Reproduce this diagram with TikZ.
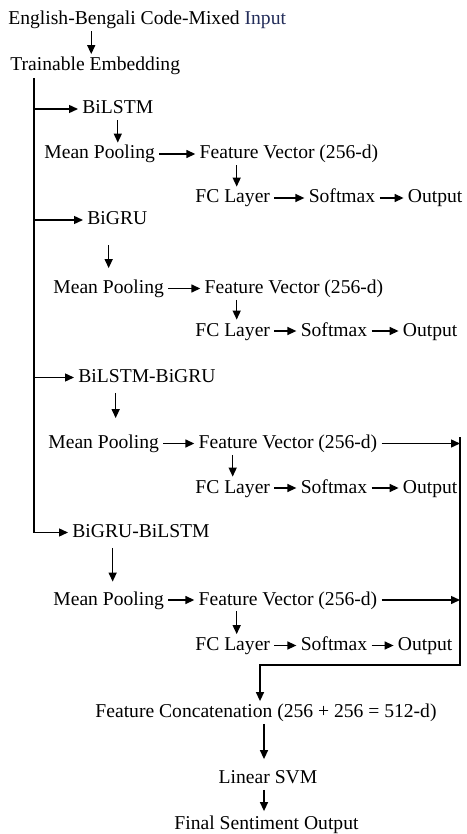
\documentclass[tikz,border=0pt]{standalone}
\usepackage{fontspec}
\setmainfont{Liberation Serif}
\usepackage{xcolor}
\usepackage{tikz}
\usetikzlibrary{arrows.meta, positioning}

\definecolor{inputblue}{RGB}{35,45,90}

\begin{document}
\begin{tikzpicture}[
    x=0.5pt, y=-0.5pt,
    lbl/.style={inner xsep=2pt, inner ysep=1pt, text height=7pt, text depth=2pt, font=\fontsize{9.8}{12}\selectfont},
    arrow/.style={-{Triangle[length=4.5pt, width=4pt]}, line width=0.7pt},
    bus/.style={line width=0.8pt},
]
\useasboundingbox (0,0) rectangle (466,834);

% Top: input and embedding
\node[lbl, anchor=west] (input) at (4,20) {English-Bengali Code-Mixed {\color{inputblue}Input}};
\node[lbl, anchor=west] (emb) at (6,65.5) {Trainable Embedding};
\draw[arrow] ([xshift=-2pt]emb.north |- input.south) -- ([xshift=-2pt]emb.north);
\coordinate (trunk) at (34,78);

% Branch 1: BiLSTM
\node[lbl, anchor=west] (bilstm) at (78,109) {BiLSTM};
\node[lbl, anchor=west] (mp1) at (40,154) {Mean Pooling};
\node[lbl, right=18pt of mp1] (fv1) {Feature Vector (256-d)};
\node[lbl, anchor=west] (fc1) at (191,198) {FC Layer};
\node[lbl, right=15pt of fc1] (sm1) {Softmax};
\node[lbl, right=12pt of sm1] (out1) {Output};
\draw[arrow] (trunk |- bilstm.west) -- (bilstm.west);
\draw[arrow] (bilstm.south) -- (bilstm.south |- mp1.north);
\draw[arrow] (mp1) -- (fv1);
\draw[arrow] ([xshift=2pt]fc1.north |- fv1.south) -- ([xshift=2pt]fc1.north);
\draw[arrow] (fc1) -- (sm1);
\draw[arrow] (sm1) -- (out1);

% Branch 2: BiGRU
\node[lbl, anchor=west] (bigru) at (83,220) {BiGRU};
\node[lbl, anchor=west] (mp2) at (49,288.5) {Mean Pooling};
\node[lbl, right=16pt of mp2] (fv2) {Feature Vector (256-d)};
\node[lbl, anchor=west] (fc2) at (191,331) {FC Layer};
\node[lbl, right=11pt of fc2] (sm2) {Softmax};
\node[lbl, right=13.5pt of sm2] (out2) {Output};
\draw[arrow] (trunk |- bigru.west) -- (bigru.west);
\draw[arrow, shorten >=4.5pt] ([yshift=-7pt]mp2.north |- bigru.south) -- (mp2.north);
\draw[arrow] (mp2) -- (fv2);
\draw[arrow] ([xshift=2pt]fc2.north |- fv2.south) -- ([xshift=2pt]fc2.north);
\draw[arrow] (fc2) -- (sm2);
\draw[arrow] (sm2) -- (out2);

% Branch 3: BiLSTM-BiGRU
\node[lbl, anchor=west] (blbg) at (74,377.5) {BiLSTM-BiGRU};
\node[lbl, anchor=west] (mp3) at (44,443.5) {Mean Pooling};
\node[lbl, right=15.5pt of mp3] (fv3) {Feature Vector (256-d)};
\node[lbl, anchor=west] (fc3) at (191,488) {FC Layer};
\node[lbl, right=11pt of fc3] (sm3) {Softmax};
\node[lbl, right=13.5pt of sm3] (out3) {Output};
\draw[arrow] (trunk |- blbg.west) -- (blbg.west);
\draw[arrow, shorten >=7pt] ([xshift=6pt, yshift=-2pt]mp3.north |- blbg.south) -- ([xshift=6pt]mp3.north);
\draw[arrow] (mp3) -- (fv3);
\draw[arrow] (fc3.north |- fv3.south) -- (fc3.north);
\draw[arrow] (fc3) -- (sm3);
\draw[arrow] (sm3) -- (out3);

% Branch 4: BiGRU-BiLSTM
\node[lbl, anchor=west] (bgbl) at (68,532.5) {BiGRU-BiLSTM};
\node[lbl, anchor=west] (mp4) at (49,600) {Mean Pooling};
\node[lbl, right=13pt of mp4] (fv4) {Feature Vector (256-d)};
\node[lbl, anchor=west] (fc4) at (191,645.5) {FC Layer};
\node[lbl, right=11pt of fc4] (sm4) {Softmax};
\node[lbl, right=11pt of sm4] (out4) {Output};
\draw[bus, arrow] (trunk) |- (bgbl.west);
\draw[arrow, shorten >=3.5pt] ([xshift=2pt, yshift=-2pt]mp4.north |- bgbl.south) -- ([xshift=2pt]mp4.north);
\draw[arrow] (mp4) -- (fv4);
\draw[arrow] ([xshift=2pt]fc4.north |- fv4.south) -- ([xshift=2pt]fc4.north);
\draw[arrow] (fc4) -- (sm4);
\draw[arrow] (sm4) -- (out4);

% Fusion of the two hybrid branches
\coordinate (bustop) at (460,437);
\coordinate (busbot) at (460,665);
\draw[arrow] (fv3.east) -- (fv3.east -| bustop);
\draw[arrow] (fv4.east) -- (fv4.east -| bustop);
\node[lbl] (concat) at (266,712.5) {Feature Concatenation (256 + 256 = 512-d)};
\node[lbl] (svm) at (268,778.5) {Linear SVM};
\node[lbl] (final) at (266.5,824.5) {Final Sentiment Output};
\draw[bus, arrow] (bustop) -- (busbot) -| ([xshift=-3pt]concat.north);
\draw[arrow, shorten >=4pt] ([xshift=-2pt]svm.north |- concat.south) -- ([xshift=-2pt]svm.north);
\draw[arrow, shorten >=1pt] ([xshift=-2pt]svm.south) -- ([xshift=-2pt]svm.south |- final.north);
\end{tikzpicture}
\end{document}
